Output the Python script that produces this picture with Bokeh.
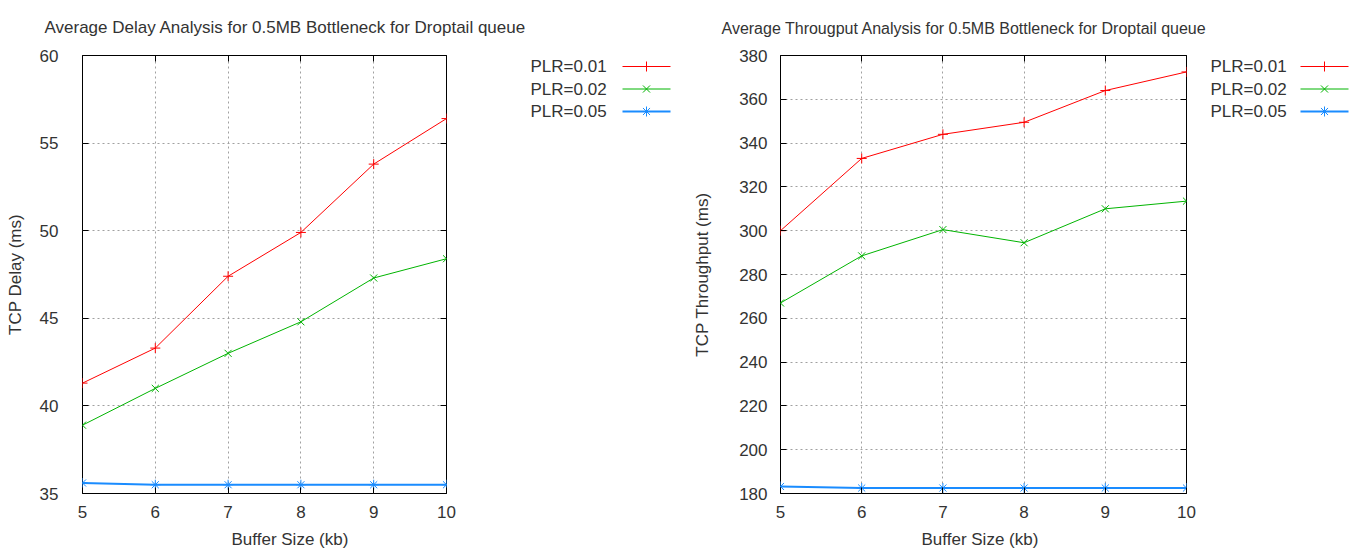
from bokeh.plotting import figure
from bokeh.layouts import row
from bokeh.models import LinearAxis, FixedTicker, Range1d, Title
from bokeh.core.properties import value
from bokeh.embed import file_html
from bokeh.resources import INLINE

# ---------------- data ----------------
buffer_size = [5, 6, 7, 8, 9, 10]
x_ticks = [5, 6, 7, 8, 9, 10]

delay_plr_001 = [41.3, 43.3, 47.4, 49.9, 53.8, 56.4]
delay_plr_002 = [38.9, 41.0, 43.0, 44.8, 47.3, 48.4]
delay_plr_005 = [35.6, 35.5, 35.5, 35.5, 35.5, 35.5]
delay_ticks = [35, 40, 45, 50, 55, 60]

thr_plr_001 = [300, 333, 344, 349.5, 364, 372.5]
thr_plr_002 = [267, 288.5, 300.5, 294.5, 310, 313.5]
thr_plr_005 = [183.2, 182.5, 182.5, 182.5, 182.5, 182.5]
thr_ticks = [180, 200, 220, 240, 260, 280, 300, 320, 340, 360, 380]

series_labels = ["PLR=0.01", "PLR=0.02", "PLR=0.05"]

FONT = "Liberation Sans"
TXT = "#333333"
COLORS = ["#ff0000", "#00b400", "#1a8cff"]
MARKERS = ["cross", "x", "asterisk"]
WIDTHS = [1, 1, 2]
H, TOP, BOTTOM = 560, 55, 67


def make_chart(title, title_size, ylabel, ys, yr, yticks, W, left, frame_w, title_x,
               tick_standoff, label_standoff, xlabel_x):
    p = figure(width=W, height=H, output_backend="svg", toolbar_location=None,
               x_range=Range1d(5, 10), y_range=Range1d(yr[0], yr[1]),
               min_border_left=left, min_border_right=W - left - frame_w,
               min_border_top=TOP, min_border_bottom=BOTTOM, title=title)
    p.title.align = "left"
    p.title.vertical_align = "top"
    p.title.offset = title_x - left
    p.title.text_font = FONT
    p.title.text_font_size = title_size
    p.title.text_font_style = "normal"
    p.title.text_color = TXT
    p.title.standoff = 33

    p.outline_line_color = "black"
    p.outline_line_width = 1
    p.outline_line_alpha = 1

    for ax in (p.xaxis[0], p.yaxis[0]):
        ax.major_tick_in = 6
        ax.major_tick_out = 0
        ax.minor_tick_line_color = None
        ax.axis_line_color = None
        ax.major_tick_line_color = "black"
        ax.major_label_text_font = FONT
        ax.major_label_text_font_size = "17px"
        ax.major_label_text_color = TXT
        ax.axis_label_text_font = FONT
        ax.axis_label_text_font_size = "17px"
        ax.axis_label_text_font_style = "normal"
        ax.axis_label_text_color = TXT
    p.xaxis.ticker = FixedTicker(ticks=x_ticks)
    p.yaxis.ticker = FixedTicker(ticks=yticks)
    p.yaxis.axis_label = ylabel
    p.xaxis.major_label_standoff = 12
    p.yaxis.major_label_standoff = tick_standoff
    p.yaxis.axis_label_standoff = label_standoff

    # x-axis label, placed like gnuplot (not centred on the frame)
    p.add_layout(Title(text="Buffer Size (kb)", align="left", offset=xlabel_x - left,
                       text_font=FONT, text_font_size="17px", text_font_style="normal",
                       text_color=TXT, standoff=14), "below")

    # mirrored ticks (no labels)
    for side, tks in (("right", yticks), ("above", x_ticks)):
        ax = LinearAxis(ticker=FixedTicker(ticks=tks),
                        major_tick_in=6, major_tick_out=0, minor_tick_line_color=None,
                        axis_line_color=None, major_label_standoff=0,
                        major_label_overrides={t: "" for t in tks})
        p.add_layout(ax, side)

    p.xgrid.ticker = FixedTicker(ticks=x_ticks)
    p.ygrid.ticker = FixedTicker(ticks=yticks)
    for g in (p.xgrid[0], p.ygrid[0]):
        g.grid_line_color = "#a0a0a0"
        g.grid_line_dash = "2 3"
        g.grid_line_width = 1

    for y, c, m, w in zip(ys, COLORS, MARKERS, WIDTHS):
        p.line(buffer_size, y, line_color=c, line_width=w)
        p.scatter(buffer_size, y, marker=m, size=10, line_color=c, line_width=1)
    return p


def make_key(W, text_x, line_x):
    # gnuplot-style key: label first, then the line sample with its point
    k = figure(width=W, height=H, output_backend="svg", toolbar_location=None,
               x_range=Range1d(0, W), y_range=Range1d(H - BOTTOM, TOP),
               min_border_left=0, min_border_right=0,
               min_border_top=TOP, min_border_bottom=BOTTOM)
    k.axis.visible = False
    k.grid.visible = False
    k.outline_line_color = None
    rows_y = [66, 88.5, 111]
    for lab, y, c, m, w in zip(series_labels, rows_y, COLORS, MARKERS, WIDTHS):
        k.text(x=[text_x], y=[y], text=[lab], text_font=value(FONT),
               text_font_size="17px", text_color=TXT, text_baseline="middle")
        k.line([line_x, line_x + 48], [y, y], line_color=c, line_width=w)
        k.scatter([line_x + 24], [y], marker=m, size=10, line_color=c, line_width=1)
    return k


p1 = make_chart("Average Delay Analysis for 0.5MB Bottleneck for Droptail queue", "17px",
                "TCP Delay (ms)", [delay_plr_001, delay_plr_002, delay_plr_005],
                (35, 60), delay_ticks, 528, 82, 364, 44, 24, 12, 231)
k1 = make_key(155, 2, 94)
p2 = make_chart("Average Througput Analysis for 0.5MB Bottleneck for Droptail queue", "16px",
                "TCP Throughput (ms)", [thr_plr_001, thr_plr_002, thr_plr_005],
                (180, 380), thr_ticks, 525, 97, 406, 38, 13, 24, 238)
k2 = make_key(158, 2, 92)

layout = row(p1, k1, p2, k2)
open("out.html", "w").write(file_html(layout, INLINE))
